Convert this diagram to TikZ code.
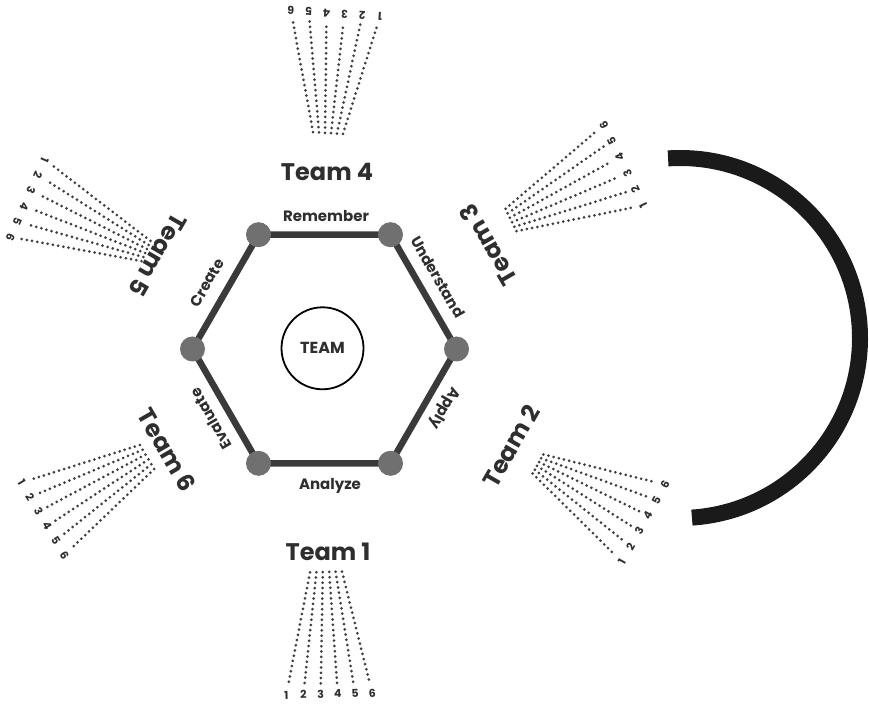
\documentclass[tikz,border=0pt]{standalone}
\usepackage{fontspec}
\setmainfont{Poppins}
\usetikzlibrary{calc}
\definecolor{edgec}{HTML}{3A3A3A}
\definecolor{vertc}{HTML}{707070}
\definecolor{inkc}{HTML}{2E2E2E}
\definecolor{dotc}{HTML}{404040}
\definecolor{arcc}{HTML}{1A1A1A}
\tikzset{
  hexedge/.style={draw=edgec, line width=6.5pt},
  vertdot/.style={circle, fill=vertc, minimum size=25pt, inner sep=0pt},
  hexlab/.style={text=inkc, font=\fontsize{15}{15}\selectfont\bfseries, inner sep=0pt},
  teamlab/.style={text=inkc, font=\fontsize{24}{24}\selectfont\bfseries, inner sep=0pt},
  numlab/.style={text=inkc, font=\fontsize{11}{11}\selectfont\bfseries, inner sep=0pt},
  dotline/.style={draw=dotc, line width=3pt, line cap=round, dash pattern=on 0pt off 5.3pt},
  centrecircle/.style={circle, draw=black, line width=1.8pt, minimum size=82pt, inner sep=0pt,
    text=inkc, font=\fontsize{16}{16}\selectfont\bfseries}
}
% #1 name, #2 x, #3 y, #4 axis angle, #5 length, #6 apex spacing, #7 end spacing
\newcommand\drawfan[7]{%
  \coordinate (#1) at (#2,#3);
  \foreach \i in {1,...,6}{%
    \pgfmathsetmacro\off{3.5-\i}%
    \draw[dotline] ($(#1)+(#4-90:{\off*#6})$) coordinate (#1s\i)
      -- ($(#1)+(#4:#5)+(#4-90:{\off*#7})$) coordinate (#1e\i)
      node[numlab, pos=1.08, rotate=#4+90] (#1n\i) {\i};
  }%
}
\begin{document}
\begin{tikzpicture}[x=1pt,y=1pt]
\useasboundingbox (0,0) rectangle (869,704);
\fill[white] (0,0) rectangle (869,704);

% hexagon
\coordinate (hc) at (324.5,355);
\foreach \k/\a in {0/0,1/60,2/120,3/180,4/240,5/300}{
  \coordinate (v\k) at ($(hc)+(\a:132)$);
}
\draw[hexedge] (v0) -- (v1) -- (v2) -- (v3) -- (v4) -- (v5) -- cycle;
\foreach \k in {0,...,5}{ \node[vertdot] (vd\k) at (v\k) {}; }

\node[centrecircle] (team) at (322.5,355.7) {TEAM};

% hexagon labels
\node[hexlab] (lRem) at (326,488) {Remember};
\node[hexlab, rotate=-60] (lUnd) at (438,427) {Understand};
\node[hexlab, rotate=-120] (lApp) at (444,296) {Apply};
\node[hexlab] (lAna) at (330,218) {Analyze};
\node[hexlab, rotate=120] (lEva) at (211,285) {Evaluate};
\node[hexlab, rotate=60] (lCre) at (207,421) {Create};

% team labels
\node[teamlab] (t4) at (327,532) {Team 4};
\node[teamlab, rotate=120] (t3) at (488,459) {Team 3};
\node[teamlab, rotate=60] (t2) at (511,258) {Team 2};
\node[teamlab] (t1) at (328,152) {Team 1};
\node[teamlab, rotate=-60] (t6) at (167,254) {Team 6};
\node[teamlab, rotate=-120] (t5) at (158,449) {Team 5};

% fans
\drawfan{fa}{326}{132}{-88.5}{113}{6.4}{16.4}
\drawfan{fd}{328}{571}{86.4}{111}{6}{17}
\drawfan{fb}{538}{240}{-29.3}{112}{4.4}{16.7}
\drawfan{fc}{511}{484}{26}{116}{5}{17}
\drawfan{fe}{146}{453}{156}{120}{4.4}{16}
\drawfan{ff}{147}{247}{210.7}{112}{5.6}{16}

% arc
\coordinate (ac) at (680,366);
\draw[draw=arcc, line width=16pt] ($(ac)+(93.8:180)$) arc[start angle=93.8, end angle=-86.2, radius=180];
\end{tikzpicture}
\end{document}
